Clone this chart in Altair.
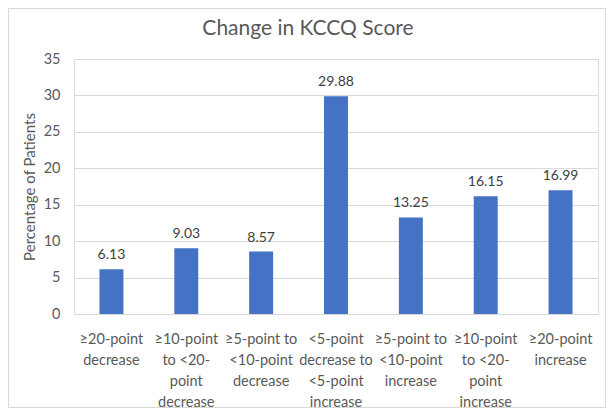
import altair as alt
import pandas as pd

categories = [
    "≥20-point|decrease",
    "≥10-point|to <20-|point|decrease",
    "≥5-point to|<10-point|decrease",
    "<5-point|decrease to|<5-point|increase",
    "≥5-point to|<10-point|increase",
    "≥10-point|to <20-|point|increase",
    "≥20-point|increase",
]
values = [6.13, 9.03, 8.57, 29.88, 13.25, 16.15, 16.99]
chart_title = "Change in KCCQ Score"

df = pd.DataFrame({"cat": categories, "val": values})

FONT = "Lato"
GRAY = "#595959"

x = alt.X(
    "cat:N",
    sort=categories,
    scale=alt.Scale(paddingInner=0.68, paddingOuter=0.34),
    axis=alt.Axis(
        title=None,
        labelAngle=0,
        labelExpr="split(datum.label, '|')",
        labelLineHeight=21,
        labelFontSize=14.5,
        labelColor=GRAY,
        labelFont=FONT,
        labelPadding=18,
        ticks=False,
        domainColor="#d9d9d9",
        labelLimit=200,
    ),
)
y = alt.Y(
    "val:Q",
    scale=alt.Scale(domain=[0, 35]),
    axis=alt.Axis(
        title="Percentage of Patients",
        titleFont=FONT,
        titleFontSize=15,
        titleFontWeight="normal",
        titleColor=GRAY,
        titlePadding=6,
        values=[0, 5, 10, 15, 20, 25, 30, 35],
        labelFont=FONT,
        labelFontSize=14.5,
        labelColor=GRAY,
        labelPadding=14,
        ticks=False,
        domain=False,
        gridColor="#d9d9d9",
    ),
)

bars = alt.Chart(df).mark_bar(color="#4472C4").encode(x=x, y=y)
labels = alt.Chart(df).mark_text(
    baseline="bottom", dy=-7, font=FONT, fontSize=14, color="#404040"
).encode(x=x, y=y, text=alt.Text("val:Q", format=".2f"))

frame = pd.DataFrame({"t": [chart_title]})
border = alt.Chart(frame).mark_rect(
    fill="transparent", stroke="#d9d9d9", strokeWidth=1
).encode(
    x=alt.value(-65.5), x2=alt.value(531.5), y=alt.value(-50.5), y2=alt.value(348.5)
)
title = alt.Chart(frame).mark_text(
    font=FONT, fontSize=21, color=GRAY, baseline="middle", align="center"
).encode(x=alt.value(234), y=alt.value(-30), text="t:N")

chart = (
    alt.layer(border, bars, labels, title)
    .properties(
        width=524,
        height=255,
        autosize=alt.AutoSizeParams(type="none"),
        padding={"left": 66, "top": 51, "right": 8, "bottom": 100},
    )
    .configure_view(stroke=None)
    .configure(background="white")
)

chart.save("out.html", embed_options={"renderer": "svg", "actions": False})
